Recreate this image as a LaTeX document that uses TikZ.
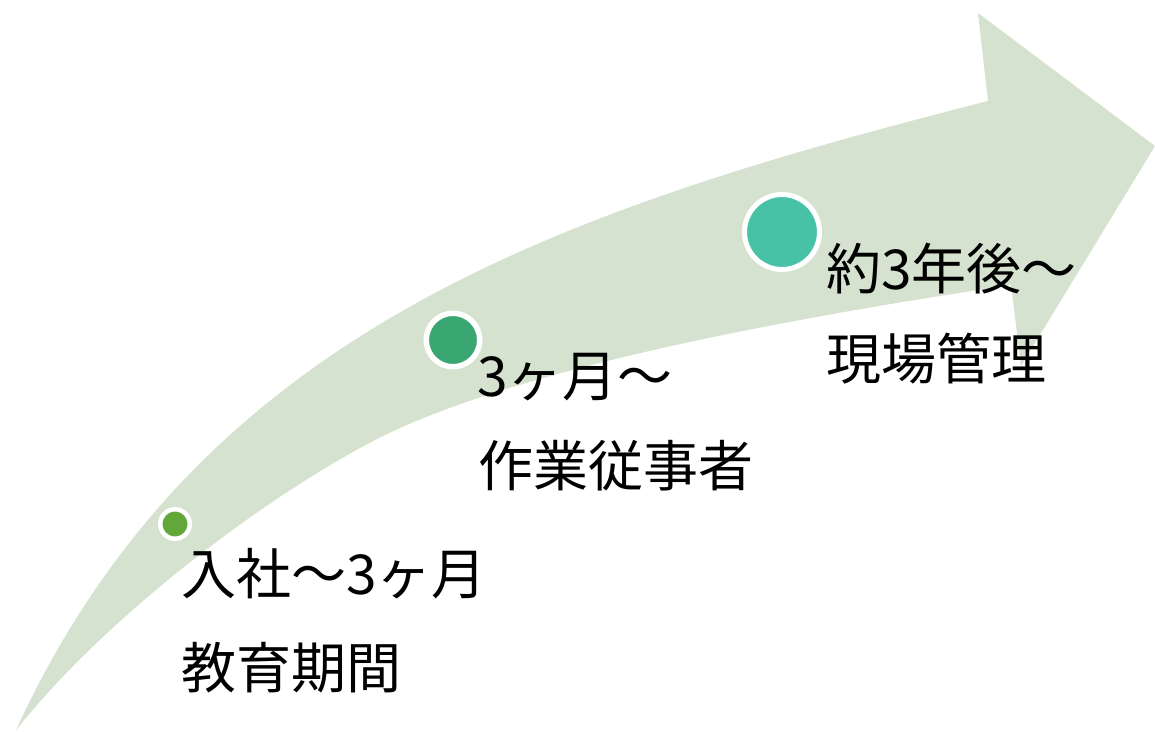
\documentclass[tikz,border=0pt]{standalone}
\usepackage{fontspec}
\usepackage{tikz}
\newfontfamily\jpfont{Noto Sans CJK JP}
\definecolor{bandgreen}{RGB}{213,226,207}
\definecolor{stepA}{RGB}{99,167,58}
\definecolor{stepB}{RGB}{58,167,115}
\definecolor{stepC}{RGB}{71,194,166}

\begin{document}
\begin{tikzpicture}[x=1pt, y=-1pt, dot/.style={circle, draw=white, inner sep=0pt}, stagetext/.style={anchor=base west, inner sep=0pt, font=\jpfont\fontsize{55}{60}\selectfont}]
			\useasboundingbox (0,0) rectangle (1155,731);
			
			% the curved arrow
			\fill[bandgreen] (16,730) .. controls (200,330) and (560,210) .. (988,101)
				-- (978,13) -- (1155,146) -- (1021,366) -- (1011,285)
				.. controls (811,315) and (550,361) .. (400,428)
				.. controls (300,473) and (120,600) .. (16,730) -- cycle;
			
			\node[dot, fill=stepA, minimum size=29.5pt, line width=4.5pt] (p1) at (175,524){};
			\node[dot, fill=stepB, minimum size=53.5pt, line width=5.5pt] (p2) at (453,340){};
			\node[dot, fill=stepC, minimum size=75pt, line width=5pt] (p3) at (782,232){};
			
			\node[stagetext] (t1a) at (181,594){入社～3ヶ月};
			\node[stagetext] (t1b) at (181,688){教育期間};
			\node[stagetext] (t2a) at (477,396){3ヶ月～};
			\node[stagetext] (t2b) at (478,486){作業従事者};
			\node[stagetext] (t3a) at (826,289){約3年後～};
			\node[stagetext] (t3b) at (826,379){現場管理};
			\end{tikzpicture}
\end{document}
